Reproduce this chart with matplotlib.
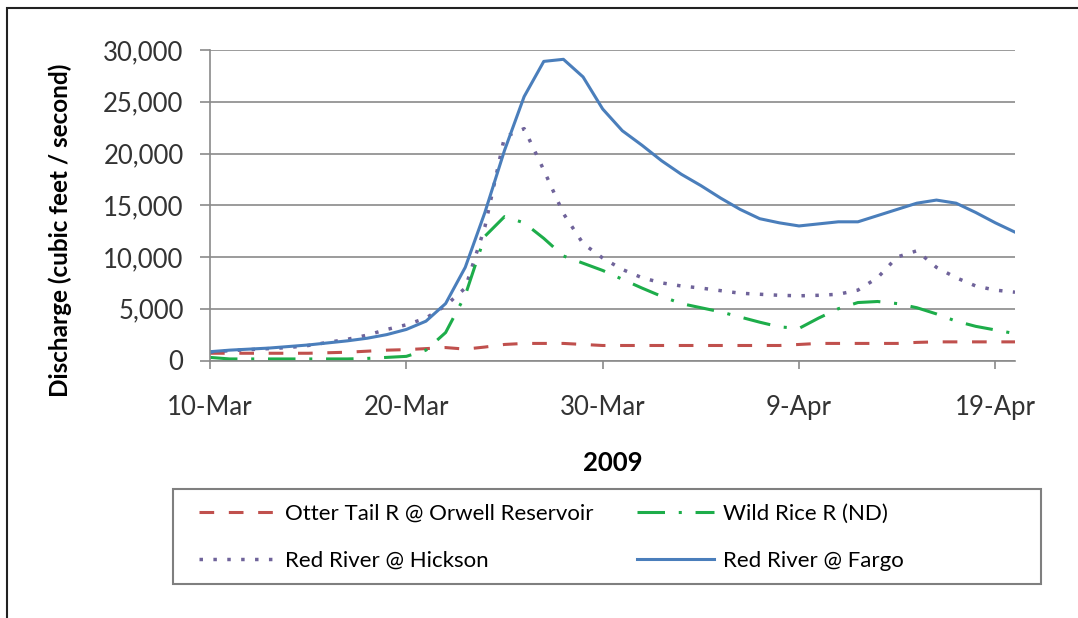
import numpy as np
import pandas as pd
import matplotlib
matplotlib.use('Agg')
import matplotlib.pyplot as plt
from matplotlib.patches import Rectangle

plt.rcParams['font.family'] = ['Lato', 'DejaVu Sans']

dates = pd.date_range('2009-03-10', periods=42, freq='D')
tick_dates = dates[::10]
tick_labels = ['10-Mar', '20-Mar', '30-Mar', '9-Apr', '19-Apr']

otter_tail = [700, 700, 700, 700, 700, 700, 750, 800, 900, 1000,
              1050, 1150, 1250, 1100, 1300, 1550, 1650, 1650, 1650, 1550,
              1450, 1450, 1450, 1450, 1450, 1450, 1450, 1450, 1450, 1450,
              1550, 1650, 1650, 1650, 1650, 1650, 1750, 1800, 1800, 1800,
              1800, 1800]
wild_rice = [300, 150, 150, 150, 150, 150, 150, 150, 200, 300,
             400, 1000, 2700, 6300, 12000, 13900, 13300, 11800, 10100, 9400,
             8700, 7850, 7000, 6200, 5500, 5100, 4700, 4200, 3700, 3250,
             3100, 4100, 5000, 5600, 5700, 5500, 5100, 4500, 3800, 3300,
             2950, 2600]
hickson = [800, 950, 1050, 1150, 1250, 1450, 1750, 2050, 2450, 3000,
           3450, 4100, 5300, 7000, 12900, 21600, 22400, 18400, 14200, 11300,
           9900, 8800, 8000, 7500, 7200, 7000, 6750, 6500, 6400, 6300,
           6250, 6300, 6400, 6800, 8000, 10000, 10600, 9000, 8000, 7200,
           6800, 6600]
fargo = [850, 1000, 1100, 1200, 1350, 1500, 1700, 1900, 2150, 2500,
         3000, 3800, 5500, 9000, 14300, 20300, 25500, 28900, 29100, 27400,
         24300, 22200, 20800, 19300, 18000, 16900, 15700, 14600, 13700, 13300,
         13000, 13200, 13400, 13400, 14000, 14600, 15200, 15500, 15200, 14300,
         13300, 12400]

W, H = 1078, 618
fig = plt.figure(figsize=(W / 100, H / 100), dpi=100)
ax = fig.add_axes([210 / W, 1 - 360.5 / H, 805 / W, 310.5 / H])

ax.plot(dates, otter_tail, color='#C0504D', lw=2.2, ls=(0, (4.8, 4.8)),
        label='Otter Tail R @ Orwell Reservoir')
ax.plot(dates, hickson, color='#6F639A', lw=2.5, ls=(0, (1, 3)),
        label='Red River @ Hickson')
ax.plot(dates, wild_rice, color='#1DAD4A', lw=2.2, ls=(0, (9, 4.5, 1, 4.5)),
        label='Wild Rice R (ND)')
ax.plot(dates, fargo, color='#4A7EBB', lw=2.2, label='Red River @ Fargo')

ax.set_xlim(dates[0], dates[-1])
ax.set_ylim(0, 30000)
ax.set_yticks(range(0, 30001, 5000))
ax.set_yticklabels([f'{v:,}' for v in range(0, 30001, 5000)])
ax.set_xticks(tick_dates)
ax.set_xticklabels(tick_labels)
ax.grid(axis='y', color='#8a8a8a', lw=1.2)
ax.set_axisbelow(True)
for s in ['top', 'right']:
    ax.spines[s].set_visible(False)
for s in ['left', 'bottom']:
    ax.spines[s].set_color('#8a8a8a')
    ax.spines[s].set_linewidth(1.2)
ax.tick_params(axis='y', length=7, width=1.2, color='#8a8a8a', pad=12,
               labelsize=18.5, labelcolor='#333333')
ax.tick_params(axis='x', length=6, width=1.2, color='#8a8a8a', pad=19,
               labelsize=18.5, labelcolor='#333333')

ax.set_ylabel('Discharge (cubic feet / second)', fontsize=17.5, fontweight='bold')
ax.yaxis.set_label_coords(-0.171, 0.42)
ax.set_xlabel('2009', fontsize=18.5, fontweight='bold', va='top')
ax.xaxis.set_label_coords(0.5, -0.29)

# legend without its own frame, the box is drawn separately
handles, labels = ax.get_legend_handles_labels()
leg = fig.legend(handles, labels, loc='upper left', ncol=2, frameon=False,
                 bbox_to_anchor=(199 / W, 1 - 504 / H),
                 fontsize=16, handlelength=3.47, handletextpad=0.4,
                 labelspacing=1.2, borderpad=0, borderaxespad=0,
                 columnspacing=1.94)
fig.patches.append(Rectangle((173 / W, 1 - 584 / H), 868 / W, 95 / H,
                             transform=fig.transFigure, fill=False,
                             edgecolor='#7f7f7f', lw=1.5))

fig.patches.append(Rectangle((7 / W, -0.1), 1.2, 1.1 - 8 / H,
                             transform=fig.transFigure, fill=False,
                             edgecolor='#222222', lw=1.5))

fig.savefig('out.png', dpi=100)
